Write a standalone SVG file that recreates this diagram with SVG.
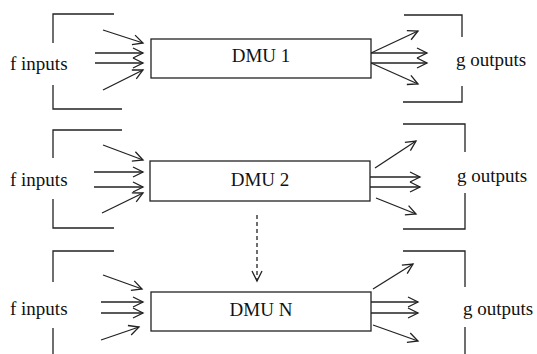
<svg xmlns="http://www.w3.org/2000/svg" width="537" height="354" viewBox="0 0 537 354">
<style>
.ln{fill:none;stroke:#222;stroke-width:1.3}
.bx{fill:#fff;stroke:#222;stroke-width:1.3}
.t{font-family:"Liberation Serif","Times New Roman",serif;font-size:19px;fill:#111}
.ar{fill:none;stroke:#222;stroke-width:1.3;marker-end:url(#ah)}
.da{fill:none;stroke:#222;stroke-width:1.3;stroke-dasharray:4 3;marker-end:url(#ah)}
</style>
<defs>
<marker id="ah" markerUnits="userSpaceOnUse" markerWidth="14" markerHeight="14" refX="0" refY="0" viewBox="-12 -7 14 14" orient="auto" overflow="visible">
<path d="M-10,-5 L0,0 L-10,5" fill="none" stroke="#222" stroke-width="1.3"/>
</marker>
</defs>
<g id="brackets">
<path class="ln" d="M114,14 H53 V43 M53,85 V109 H122"/>
<path class="ln" d="M404,15 H462 V37 M462,86 V102 H403"/>
<path class="ln" d="M122,130 H53 V158 M53,199 V228 H114"/>
<path class="ln" d="M403,124 H465 V152 M465,193 V229 H403"/>
<path class="ln" d="M114,251 H53 V282 M53,328 V354"/>
<path class="ln" d="M403,251 H465 V287 M465,327 V354"/>
</g>
<g id="connectors">
<path class="ar" d="M103,30 L143,43"/>
<path class="ar" d="M95,53 L143,53"/>
<path class="ar" d="M95,63 L143,63"/>
<path class="ar" d="M103,90 L143,70"/>
<path class="ar" d="M371,53 L418,31"/>
<path class="ar" d="M371,53 L427,53"/>
<path class="ar" d="M371,63 L427,63"/>
<path class="ar" d="M371,63 L418,84"/>
<path class="ar" d="M103,145 L143,160"/>
<path class="ar" d="M94,172 L143,172"/>
<path class="ar" d="M94,187 L143,187"/>
<path class="ar" d="M102,213 L143,193"/>
<path class="ar" d="M375,168 L416,141"/>
<path class="ar" d="M370,177 L420,177"/>
<path class="ar" d="M370,187 L420,187"/>
<path class="ar" d="M376,198 L416,214"/>
<path class="da" d="M257,215 L257,281"/>
<path class="ar" d="M103,275 L142,289"/>
<path class="ar" d="M101,302 L143,302"/>
<path class="ar" d="M101,313 L143,313"/>
<path class="ar" d="M101,340 L139,327"/>
<path class="ar" d="M373,289 L413,264"/>
<path class="ar" d="M371,302 L418,302"/>
<path class="ar" d="M371,313 L418,313"/>
<path class="ar" d="M373,325 L418,341"/>
</g>
<g id="dmu1">
<rect class="bx" x="151" y="39" width="220" height="39"/>
<text class="t" x="261" y="62" text-anchor="middle">DMU 1</text>
</g>
<g id="dmu2">
<rect class="bx" x="150" y="161" width="220" height="40"/>
<text class="t" x="260" y="186" text-anchor="middle">DMU 2</text>
</g>
<g id="dmuN">
<rect class="bx" x="151" y="292" width="220" height="39"/>
<text class="t" x="261" y="316" text-anchor="middle">DMU N</text>
</g>
<g id="labels">
<text class="t" x="10" y="70">f inputs</text>
<text class="t" x="456" y="66">g outputs</text>
<text class="t" x="10" y="186">f inputs</text>
<text class="t" x="457" y="182">g outputs</text>
<text class="t" x="10" y="315">f inputs</text>
<text class="t" x="463" y="315">g outputs</text>
</g>
</svg>
